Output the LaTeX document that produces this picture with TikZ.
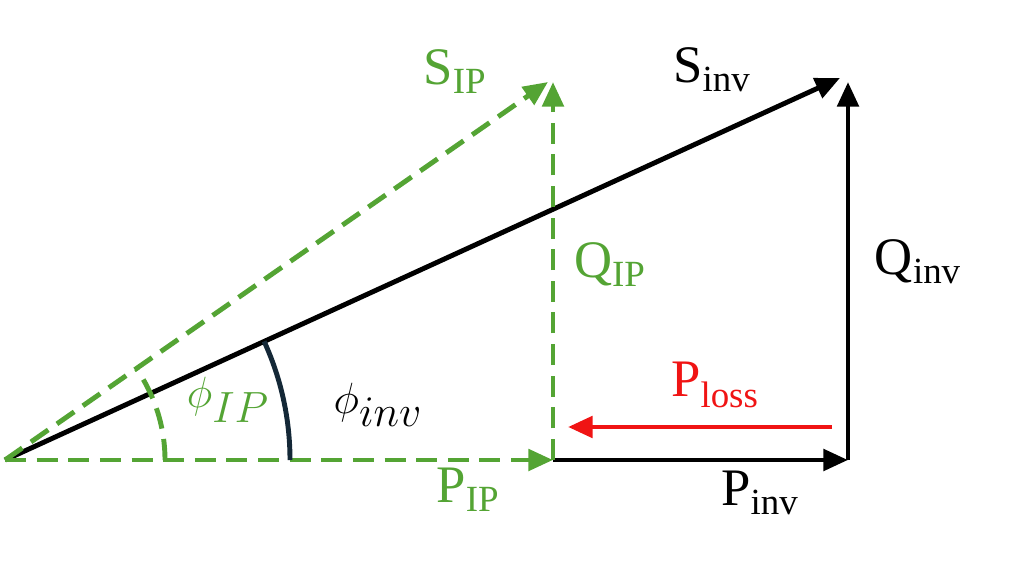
\documentclass[tikz,border=0pt]{standalone}
\usepackage{fontspec}
\setmainfont{Liberation Serif}
\usetikzlibrary{arrows.meta}
\definecolor{ipgreen}{RGB}{84,164,52}
\definecolor{lossred}{RGB}{240,20,20}
\tikzset{
  vec/.style={line width=2.8pt, -{Triangle[length=14pt,width=12pt]}},
  ipvec/.style={vec, ipgreen, dash pattern=on 12pt off 6pt},
  lbl/.style={font=\fontsize{30}{34}\selectfont, inner sep=0pt},
  anglbl/.style={font=\fontsize{34}{38}\selectfont, inner sep=0pt}
}
\begin{document}
\begin{tikzpicture}[x=0.02cm,y=-0.02cm]
\useasboundingbox (0,0) rectangle (1017,577);
% corners of the triangles
\coordinate (o) at (5,460);
\coordinate (pip) at (553,460);
\coordinate (pinv) at (848,460);
\coordinate (tinv) at (848,82);
\coordinate (sinv) at (840,78);
\coordinate (sip) at (548,82);
\coordinate (qip) at (553,82);
\coordinate (la) at (832,427);
\coordinate (lb) at (568,427);
% inverter triangle
\draw[vec] (o) -- (sinv);
\draw[vec] (pip) -- (pinv);
\draw[vec] (pinv) -- (tinv);
% IP triangle
\draw[ipvec] (o) -- (pip);
\draw[ipvec] (o) -- (sip);
\draw[ipvec] (pip) -- (qip);
% loss
\draw[vec, lossred] (la) -- (lb);
% angles
\draw[line width=2.8pt, color={rgb,255:red,20;green,40;blue,55}]
  ([shift={(0:285)}]o) arc[start angle=0, end angle=-24.6, radius=285];
\draw[line width=2.8pt, ipgreen, dash pattern=on 12pt off 6pt]
  ([shift={(0:160)}]o) arc[start angle=0, end angle=-34.8, radius=160];
% labels
\node[lbl, ipgreen] (lsip) at (455,72) {S\textsubscript{IP}};
\node[lbl] (lsinv) at (712,70) {S\textsubscript{inv}};
\node[lbl, ipgreen] (lqip) at (610,265) {Q\textsubscript{IP}};
\node[lbl] (lqinv) at (918,262) {Q\textsubscript{inv}};
\node[lbl, lossred] (lloss) at (715,385) {P\textsubscript{loss}};
\node[anglbl] (lphiinv) at (378,405) {$\phi_{inv}$};
\node[anglbl, ipgreen] (lphiip) at (228,400) {$\phi_{IP}$};
\node[lbl, ipgreen] (lpip) at (468,490) {P\textsubscript{IP}};
\node[lbl] (lpinv) at (760,493) {P\textsubscript{inv}};
\end{tikzpicture}
\end{document}
